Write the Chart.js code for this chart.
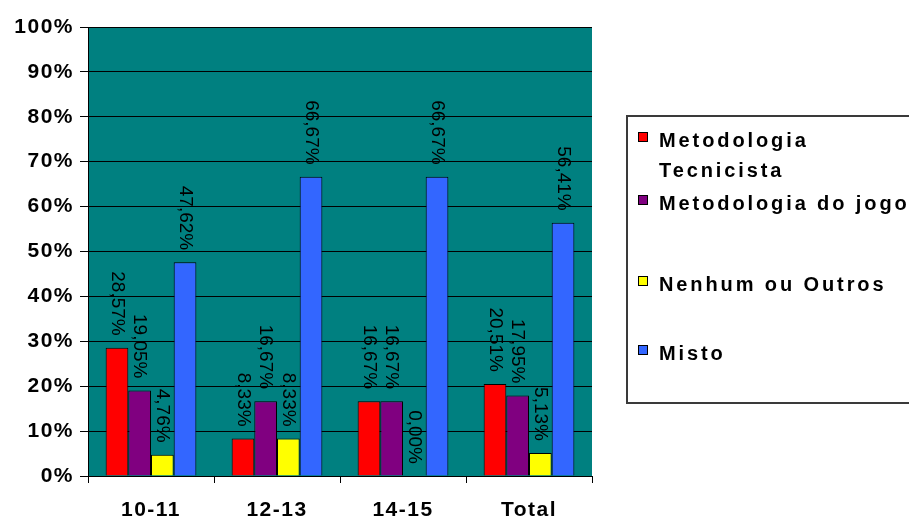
<!DOCTYPE html>
<html>
<head>
<meta charset="utf-8">
<script src="https://cdn.jsdelivr.net/npm/chart.js@4/dist/chart.umd.min.js"></script>
<style>
  html, body { margin: 0; padding: 0; background: #ffffff; }
  #wrap { position: relative; width: 909px; height: 521px; overflow: hidden; }
</style>
</head>
<body>
<div id="wrap"><canvas id="c" width="909" height="521"></canvas></div>
<script>
// Age groups and overall total
const categories = ['10-11', '12-13', '14-15', 'Total'];

// Series names (the first one breaks onto two lines in the legend)
const seriesNames = [
  ['Metodologia', 'Tecnicista'],
  ['Metodologia do jogo'],
  ['Nenhum ou Outros'],
  ['Misto']
];

// Percentages per series, one value per category
const tecnicista = [28.57, 8.33, 16.67, 20.51];
const doJogo     = [19.05, 16.67, 16.67, 17.95];
const nenhum     = [4.76, 8.33, 0.00, 5.13];
const misto      = [47.62, 66.67, 66.67, 56.41];

// Y axis range and step (percent)
const yMin = 0, yMax = 100, yStep = 10;

const seriesValues = [tecnicista, doJogo, nenhum, misto];
const seriesColors = ['#FF0000', '#800080', '#FFFF00', '#3366FF'];

const fmt = v => v.toFixed(2).replace('.', ',') + '%';

// Teal plot background and letter spacing for axis text
const plotBackground = {
  id: 'plotBackground',
  beforeDraw(chart) {
    const { ctx, chartArea: a } = chart;
    ctx.save();
    ctx.fillStyle = '#008080';
    ctx.fillRect(a.left, a.top, a.right - a.left, a.bottom - a.top);
    ctx.restore();
    ctx.letterSpacing = '1.5px';
  }
};

// Vertical value labels above each bar
const barLabels = {
  id: 'barLabels',
  afterDatasetsDraw(chart) {
    const ctx = chart.ctx;
    ctx.save();
    ctx.letterSpacing = '0px';
    ctx.font = '19px "Liberation Sans", Arial, sans-serif';
    ctx.fillStyle = '#000000';
    ctx.textAlign = 'right';
    ctx.textBaseline = 'middle';
    chart.data.datasets.forEach((ds, di) => {
      const meta = chart.getDatasetMeta(di);
      meta.data.forEach((bar, i) => {
        ctx.save();
        ctx.translate(bar.x, bar.y - 12);
        ctx.rotate(Math.PI / 2);
        ctx.fillText(fmt(ds.data[i]), 0, 0);
        ctx.restore();
      });
    });
    ctx.restore();
  }
};

// Boxed legend to the right of the plot
const boxLegend = {
  id: 'boxLegend',
  afterDraw(chart, args, opts) {
    const ctx = chart.ctx;
    ctx.save();
    ctx.letterSpacing = '0px';
    ctx.strokeStyle = '#3a3a3a';
    ctx.lineWidth = 2;
    ctx.strokeRect(opts.left, opts.top, opts.width, opts.height);
    ctx.font = 'bold 20px "Liberation Sans", Arial, sans-serif';
    ctx.letterSpacing = '2.9px';
    ctx.textBaseline = 'alphabetic';
    ctx.textAlign = 'left';
    chart.data.datasets.forEach((ds, di) => {
      const base = opts.baselines[di];
      ctx.fillStyle = ds.backgroundColor;
      ctx.fillRect(opts.left + 11, base - 15, 10, 10);
      ctx.strokeStyle = '#000000';
      ctx.lineWidth = 1;
      ctx.strokeRect(opts.left + 11.5, base - 14.5, 9, 9);
      ctx.fillStyle = '#000000';
      const lines = Array.isArray(ds.label) ? ds.label : [ds.label];
      lines.forEach((t, li) => {
        ctx.fillText(t, opts.left + 32, base + li * 30);
      });
    });
    ctx.restore();
  }
};

const datasets = seriesValues.map((vals, i) => ({
  label: seriesNames[i],
  data: vals,
  backgroundColor: seriesColors[i],
  borderColor: '#000000',
  borderWidth: 1,
  categoryPercentage: 0.72,
  barPercentage: 1.0
}));

new Chart(document.getElementById('c'), {
  type: 'bar',
  data: { labels: categories, datasets },
  plugins: [plotBackground, barLabels, boxLegend],
  options: {
    responsive: false,
    animation: false,
    layout: { padding: { top: 27, right: 317, left: 0, bottom: 0 } },
    plugins: {
      legend: { display: false },
      tooltip: { enabled: false },
      boxLegend: {
        left: 627, top: 116, width: 300, height: 287,
        baselines: [147, 210, 291, 360]
      }
    },
    scales: {
      x: {
        afterFit(s) { s.height = 45; },
        grid: {
          display: true,
          drawOnChartArea: false,
          drawTicks: true,
          tickLength: 7,
          color: '#000000',
          offset: true
        },
        border: { display: true, color: '#000000', width: 1 },
        ticks: {
          color: '#000000',
          font: { family: '"Liberation Sans", Arial, sans-serif', size: 21, weight: 'bold' },
          padding: 15,
          maxRotation: 0,
          autoSkip: false
        }
      },
      y: {
        min: yMin,
        max: yMax,
        afterFit(s) { s.width = 88; },
        grid: {
          color: '#000000',
          lineWidth: 1,
          tickLength: 8
        },
        border: { display: true, color: '#000000', width: 1 },
        ticks: {
          stepSize: yStep,
          color: '#000000',
          font: { family: '"Liberation Sans", Arial, sans-serif', size: 21, weight: 'bold' },
          padding: 6,
          callback: v => v + '%'
        }
      }
    }
  }
});
</script>
</body>
</html>
